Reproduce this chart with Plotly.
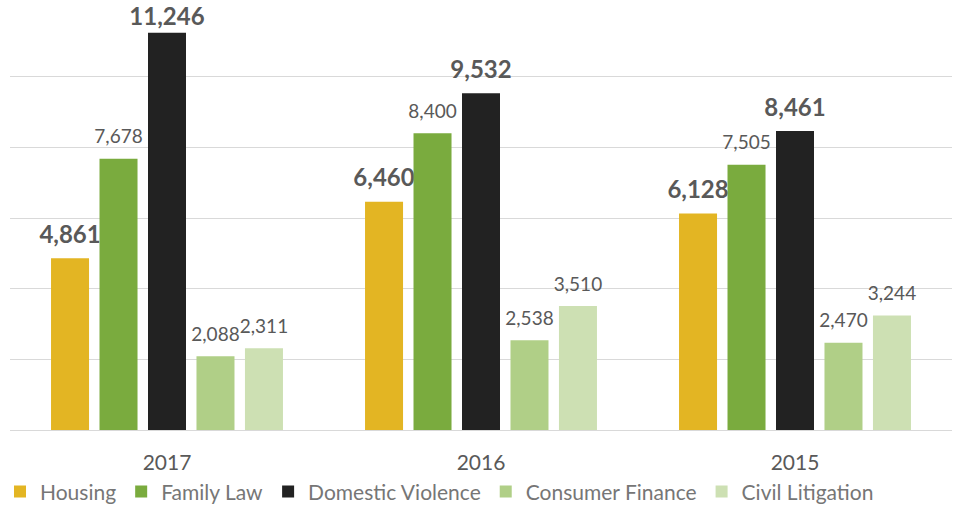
import plotly.graph_objects as go

years = ["2017", "2016", "2015"]
series_names = ["Housing", "Family Law", "Domestic Violence", "Consumer Finance", "Civil Litigation"]
housing = [4861, 6460, 6128]
family_law = [7678, 8400, 7505]
domestic_violence = [11246, 9532, 8461]
consumer_finance = [2088, 2538, 2470]
civil_litigation = [2311, 3510, 3244]

colors = ["#E3B523", "#7AAB3E", "#222222", "#B0CF87", "#CDE0B3"]
bold = [True, False, True, False, False]
values = [housing, family_law, domestic_violence, consumer_finance, civil_litigation]

FONT = "Lato"
Y_MAX = 12000
fig = go.Figure()
for name, vals, col, b in zip(series_names, values, colors, bold):
    if b:
        big = "<span style='font-size:24px;font-weight:bold'>%{y:,}</span>"
    else:
        big = "<span style='font-size:19px'>%{y:,}</span>"
    # labels near the top of the chart area sit tight against the bar (no extra gap)
    tts = [big if v > 0.9 * Y_MAX else big + "<br> " for v in vals]
    fig.add_trace(go.Bar(
        name=name, x=years, y=vals,
        marker=dict(color=col, line=dict(width=0)),
        texttemplate=tts,
        textposition="outside",
        constraintext="none",
        cliponaxis=False,
        textfont=dict(family=FONT, size=8, color="#595959"),
    ))

fig.update_layout(
    width=954, height=508,
    margin=dict(l=10, r=2, t=6, b=78, autoexpand=False),
    paper_bgcolor="white", plot_bgcolor="white",
    barmode="group", bargap=0.228, bargroupgap=0.216,
    font=dict(family=FONT, color="#595959", size=19),
    showlegend=True,
    legend=dict(orientation="h", xref="container", x=0, xanchor="left",
                yref="container", y=0.072, yanchor="top",
                font=dict(size=21, color="#767676"), itemwidth=30,
                traceorder="normal"),
    xaxis=dict(showgrid=False, ticks="outside", ticklen=14,
               tickcolor="rgba(0,0,0,0)", tickfont=dict(size=21, color="#595959"),
               showline=False),
    yaxis=dict(range=[0, Y_MAX], dtick=2000, showticklabels=False,
               showgrid=True, gridcolor="#D9D9D9", gridwidth=1,
               zeroline=True, zerolinecolor="#D9D9D9", zerolinewidth=1),
)

fig.write_html("out.html")
